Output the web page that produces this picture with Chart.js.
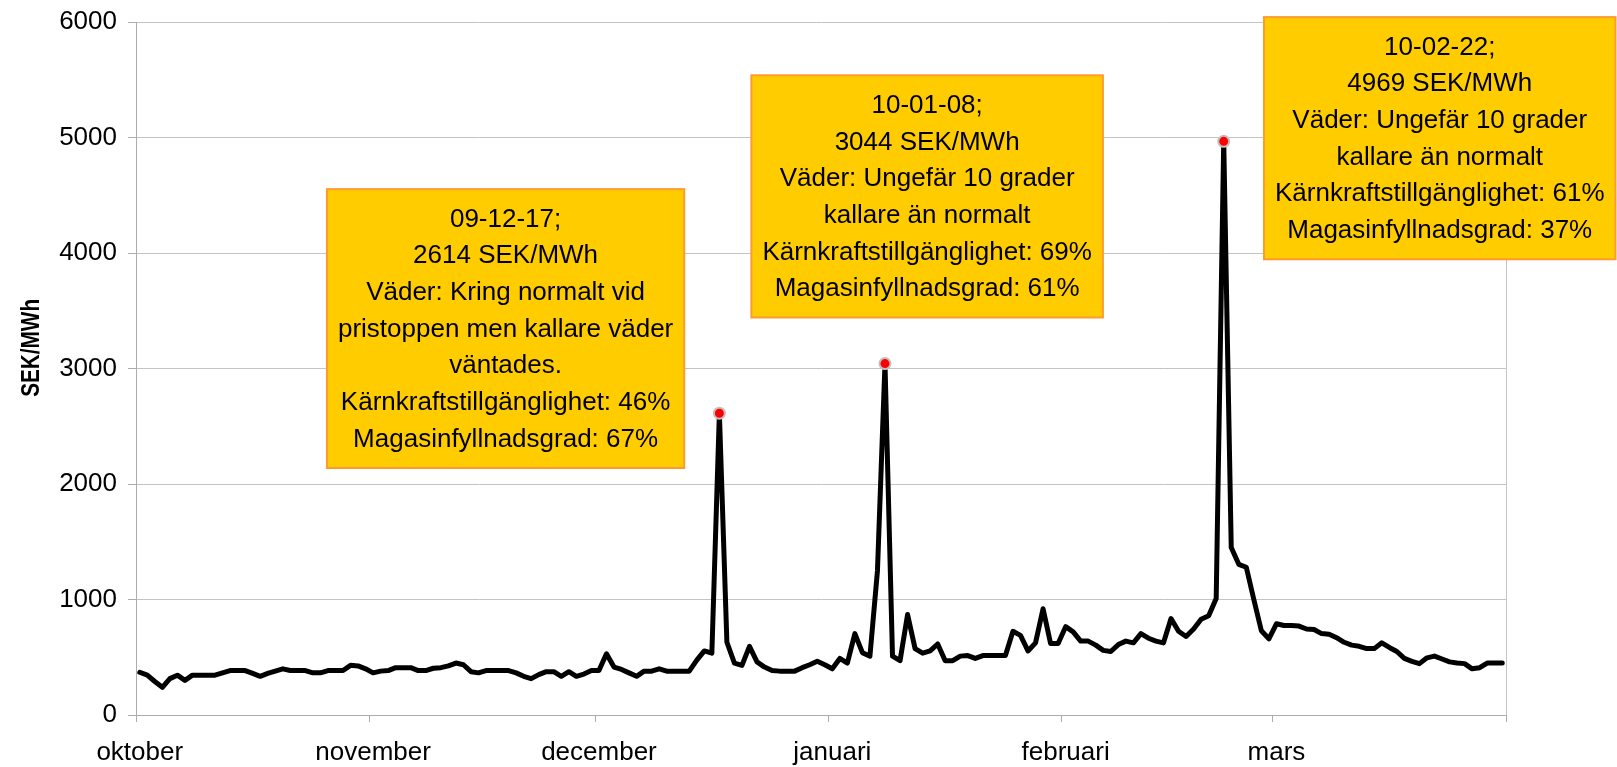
<!DOCTYPE html>
<html>
<head>
<meta charset="utf-8">
<script src="https://cdn.jsdelivr.net/npm/chart.js@4/dist/chart.umd.min.js"></script>
<style>
  html, body { margin: 0; padding: 0; background: #ffffff; }
  canvas { display: block; }
</style>
</head>
<body>
<canvas id="chart" width="1617" height="767"></canvas>
<script>
// ---------- DATA ----------
const monthLabels = ['oktober', 'november', 'december', 'januari', 'februari', 'mars'];
const monthStartIdx = [0, 31, 61, 92, 123, 151];   // day index of the 1st of each month
const dayCount = 182;                               // 1 Oct 2009 .. 31 Mar 2010
const yTickValues = [0, 1000, 2000, 3000, 4000, 5000, 6000];
const yTitle = 'SEK/MWh';

// Daily price, SEK/MWh
const prices = [
  370, 345, 290, 240, 315, 345, 300, 345, 345, 345,
  345, 365, 385, 385, 385, 360, 335, 360, 380, 400,
  385, 385, 385, 365, 365, 385, 385, 385, 430, 425,
  400, 365, 380, 385, 410, 410, 410, 385, 385, 405,
  410, 425, 450, 435, 375, 365, 385, 385, 385, 385,
  365, 335, 315, 350, 375, 375, 335, 375, 335, 355,
  385, 385, 530, 415, 395, 365, 335, 380, 380, 400,
  380, 380, 380, 380, 475, 555, 535, 2614, 630, 450,
  430, 595, 460, 415, 385, 380, 380, 380, 410, 435,
  465, 435, 400, 490, 450, 705, 540, 510, 1250, 3044,
  510, 470, 870, 575, 535, 555, 615, 470, 470, 510,
  515, 490, 515, 515, 515, 515, 725, 690, 555, 625,
  920, 620, 620, 765, 720, 640, 640, 605, 560, 550,
  610, 640, 625, 705, 665, 640, 625, 835, 725, 680,
  745, 830, 860, 1010, 4969, 1450, 1305, 1280, 1000, 730,
  660, 790, 775, 775, 770, 745, 740, 705, 700, 670,
  630, 605, 595, 575, 575, 625, 585, 550, 490, 465,
  445, 495, 510, 485, 460, 450, 445, 400, 410, 450,
  450, 450
];

const peakIdx = [77, 99, 144];

const noteTexts = [
  ['09-12-17;', '2614 SEK/MWh', 'Väder: Kring normalt vid', 'pristoppen men kallare väder',
   'väntades.', 'Kärnkraftstillgänglighet: 46%', 'Magasinfyllnadsgrad: 67%'],
  ['10-01-08;', '3044 SEK/MWh', 'Väder: Ungefär 10 grader', 'kallare än normalt',
   'Kärnkraftstillgänglighet: 69%', 'Magasinfyllnadsgrad: 61%'],
  ['10-02-22;', '4969 SEK/MWh', 'Väder: Ungefär 10 grader', 'kallare än normalt',
   'Kärnkraftstillgänglighet: 61%', 'Magasinfyllnadsgrad: 37%']
];

// ---------- LAYOUT / STYLE ----------
const FONT = '"Liberation Sans", Arial, Helvetica, sans-serif';
const gridCol = '#c4c4c4';
const axisCol = '#acacac';
// note box anchors: centre x (day index) and top (value)
const noteLayout = [
  { x: 48.6, y: 4555 },
  { x: 104.6, y: 5541 },
  { x: 172.7, y: 6045 }
];
const noteStyle = { padX: 11, padY: 11, lineH: 36.7, fill: '#ffcc00', stroke: '#ff9a2e', font: '26px ' + FONT };
const titleStyle = { font: 'bold 25px ' + FONT, x: 32, yFrac: 0.47, squeeze: 0.83 };

const boundaryTicks = monthStartIdx.map(v => v - 0.5).concat([dayCount - 0.5]);
const xTickValues = boundaryTicks.concat(monthStartIdx).sort((a, b) => a - b);

const notePlugin = {
  id: 'notes',
  afterDraw(chart) {
    const ctx = chart.ctx;
    const xs = chart.scales.x, ys = chart.scales.y;
    const area = chart.chartArea;
    ctx.save();
    // y-axis title (rotated, condensed bold)
    ctx.save();
    ctx.translate(titleStyle.x, area.top + (area.bottom - area.top) * titleStyle.yFrac);
    ctx.rotate(-Math.PI / 2);
    ctx.scale(titleStyle.squeeze, 1);
    ctx.font = titleStyle.font;
    ctx.fillStyle = '#000000';
    ctx.textAlign = 'center';
    ctx.textBaseline = 'middle';
    ctx.fillText(yTitle, 0, 0);
    ctx.restore();

    ctx.font = noteStyle.font;
    ctx.textAlign = 'center';
    ctx.textBaseline = 'middle';
    noteTexts.forEach((lines, k) => {
      const a = noteLayout[k];
      const cx = xs.getPixelForValue(a.x);
      const top = ys.getPixelForValue(a.y);
      const w = Math.max(...lines.map(t => ctx.measureText(t).width)) + 2 * noteStyle.padX;
      const h = lines.length * noteStyle.lineH + 2 * noteStyle.padY;
      ctx.fillStyle = noteStyle.fill;
      ctx.fillRect(cx - w / 2, top, w, h);
      ctx.strokeStyle = noteStyle.stroke;
      ctx.lineWidth = 2;
      ctx.strokeRect(cx - w / 2, top, w, h);
      ctx.fillStyle = '#000000';
      lines.forEach((t, j) => {
        ctx.fillText(t, cx, top + noteStyle.padY + noteStyle.lineH * (j + 0.5) + 1);
      });
    });
    ctx.restore();
  }
};

new Chart(document.getElementById('chart'), {
  type: 'line',
  data: {
    datasets: [{
      data: prices.map((v, i) => ({ x: i, y: v })),
      borderColor: '#000000',
      borderWidth: 5,
      tension: 0,
      fill: false,
      borderJoinStyle: 'round',
      borderCapStyle: 'round',
      pointRadius: ctx => peakIdx.includes(ctx.dataIndex) ? 5.5 : 0,
      pointHoverRadius: ctx => peakIdx.includes(ctx.dataIndex) ? 5.5 : 0,
      pointBackgroundColor: '#ff0000',
      pointBorderColor: '#c0c0c0',
      pointBorderWidth: 2
    }]
  },
  options: {
    responsive: false,
    animation: false,
    events: [],
    layout: { padding: { top: 22.3, right: 111, left: 0, bottom: 0 } },
    plugins: { legend: { display: false }, tooltip: { enabled: false } },
    scales: {
      x: {
        type: 'linear',
        min: -0.5,
        max: dayCount - 0.5,
        afterBuildTicks: s => { s.ticks = xTickValues.map(v => ({ value: v })); },
        afterFit: s => { s.height = 52; s.paddingLeft = 0; s.paddingRight = 0; },
        ticks: {
          autoSkip: false, maxRotation: 0, minRotation: 0, padding: 15,
          color: '#000000', font: { family: FONT, size: 26 },
          callback: v => { const k = monthStartIdx.indexOf(v); return k >= 0 ? monthLabels[k] : ''; }
        },
        grid: {
          color: ctx => (ctx.tick && ctx.tick.value === dayCount - 0.5) ? gridCol : 'rgba(0,0,0,0)',
          tickColor: ctx => (ctx.tick && boundaryTicks.includes(ctx.tick.value)) ? axisCol : 'rgba(0,0,0,0)',
          tickLength: 7,
          lineWidth: 1
        },
        border: { color: axisCol, width: 1 }
      },
      y: {
        min: 0,
        max: 6000,
        afterBuildTicks: s => { s.ticks = yTickValues.map(v => ({ value: v })); },
        afterFit: s => { s.width = 136; s.paddingTop = 0; s.paddingBottom = 0; },
        ticks: {
          padding: 11, color: '#000000', font: { family: FONT, size: 26 },
          callback: v => String(v)
        },
        grid: { color: gridCol, tickColor: axisCol, tickLength: 8, lineWidth: 1 },
        border: { color: axisCol, width: 1 },
        title: { display: false }
      }
    }
  },
  plugins: [notePlugin]
});
</script>
</body>
</html>
